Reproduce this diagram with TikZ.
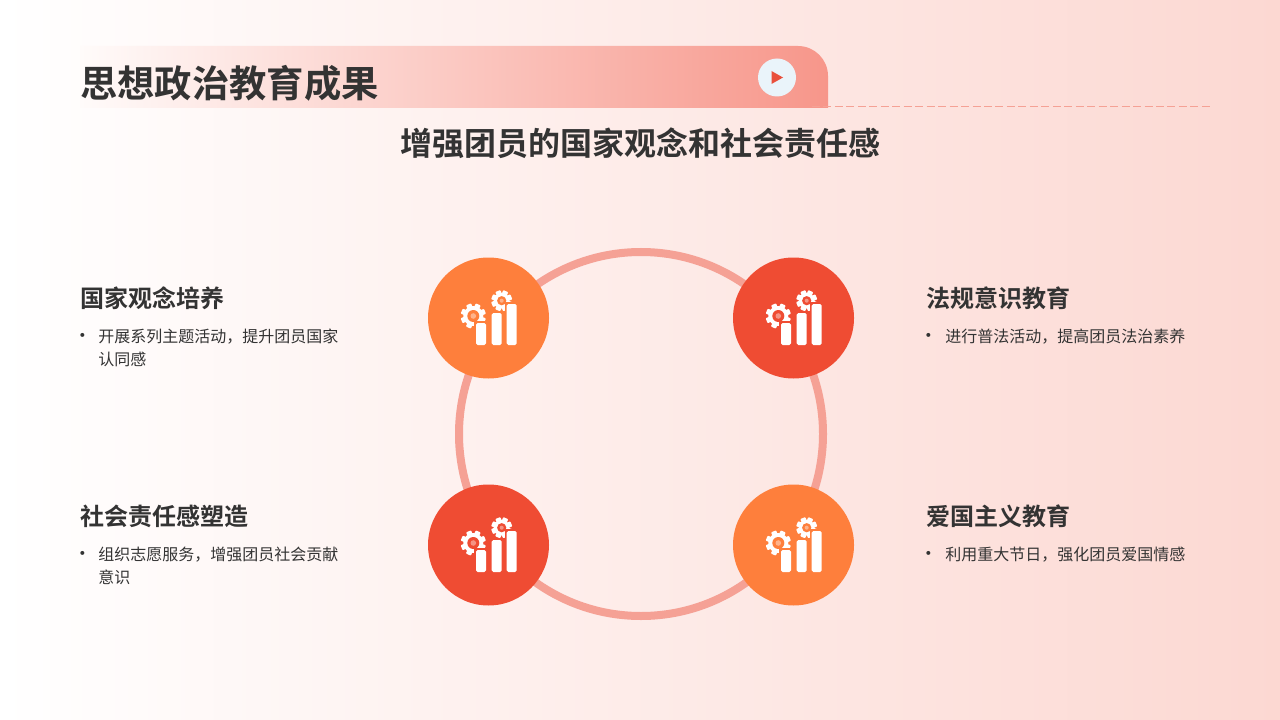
\documentclass[tikz,border=0pt]{standalone}
\usepackage{fontspec}
\setmainfont{Noto Sans CJK SC}[BoldFont={Noto Sans CJK SC Bold}]
\definecolor{ink}{HTML}{333333}
\definecolor{bgL}{HTML}{FFFFFF}
\definecolor{bgM}{HTML}{FEF1EE}
\definecolor{bgR}{HTML}{FCD8D2}
\definecolor{bandL}{HTML}{FFFBFA}
\definecolor{bandR}{HTML}{F7968A}
\definecolor{ringc}{HTML}{F5A195}
\definecolor{orangeC}{HTML}{FE7F3C}
\definecolor{redC}{HTML}{EF4C33}
\definecolor{playbg}{HTML}{EAF4FA}
\definecolor{playc}{HTML}{E9503C}
\tikzset{
  x=0.75pt,y=-0.75pt,
  titletext/.style={font=\fontsize{28pt}{32pt}\selectfont\bfseries,text=ink,anchor=west,inner sep=0},
  subtext/.style={font=\fontsize{24pt}{28pt}\selectfont\bfseries,text=ink,inner sep=0},
  headtext/.style={font=\fontsize{18pt}{22pt}\selectfont\bfseries,text=ink,anchor=west,inner sep=0},
  bodytext/.style={font=\fontsize{12pt}{16pt}\selectfont,text=ink,anchor=west,inner sep=0},
  bullettext/.style={font=\fontsize{14pt}{16pt}\selectfont,text=ink,anchor=center,inner sep=0},
  disc/.style={circle,minimum size=90.75pt,inner sep=0,draw=none,fill=#1},
  pics/gearbars/.style={code={
    \foreach \cx/\cy/\ro/\rh/\rc in {-15.7/-2/10/6/2.8, 12.7/-17.3/7.8/4.6/2}{
      \fill[white] (\cx,\cy) circle[radius=\ro];
      \foreach \a in {0,45,...,315}
        \fill[white,rounded corners=0.6pt,rotate around={\a+22:(\cx,\cy)}] (\cx-2.7,\cy-\ro-2.6) rectangle (\cx+2.7,\cy);
      \fill[#1] (\cx,\cy) circle[radius=\rh];
      \fill[white!40!#1] (\cx,\cy) circle[radius=\rc];
    }
    \foreach \xa/\ya/\xb in {-13/5/-3, 2.7/-5/12.7, 17.7/-14/27.7}{
      \fill[#1] (\xa-2,\ya-2) rectangle (\xb+2,29);
      \fill[white,rounded corners=1.2pt] (\xa,\ya) rectangle (\xb,27);
    }
  }}
}
\begin{document}
\begin{tikzpicture}
\useasboundingbox (0,0) rectangle (1280,720);
\shade[left color=bgL,middle color=bgM,right color=bgR] (0,0) rectangle (1280,720);
% header band
\shade[left color=bandL,right color=bandR]
  (80,108) -- (80,46) [rounded corners=22.5pt] -- (828,46) [sharp corners] -- (828,108) -- cycle;
\draw[ringc,line width=1.2pt,dash pattern=on 6pt off 2.6pt] (812,106.5) -- (1212,106.5);
\node[circle,fill=playbg,minimum size=28.5pt,inner sep=0] (playbtn) at (777,77.5) {};
\fill[playc] (771.5,71) -- (783,77.5) -- (771.5,84) -- cycle;
\node[titletext] (title) at (80,83) {思想政治教育成果};
\node[subtext] (subtitle) at (640.5,143) {增强团员的国家观念和社会责任感};
% ring
\draw[ringc,line width=6pt] (641,434) circle[radius=182];
% discs
\node[disc=orangeC] (d1) at (488.5,318) {};
\node[disc=redC] (d2) at (793.5,318) {};
\node[disc=redC] (d3) at (488.5,545) {};
\node[disc=orangeC] (d4) at (793.5,545) {};
\pic at (489,318) {gearbars=orangeC};
\pic at (794,318) {gearbars=redC};
\pic at (489,545) {gearbars=redC};
\pic at (794,545) {gearbars=orangeC};
% left text
\node[headtext] (h1) at (80,298) {国家观念培养};
\node[bullettext] (b1) at (83,338) {•};
\node[bodytext] (t1a) at (98,336.5) {开展系列主题活动，提升团员国家};
\node[bodytext] (t1b) at (98,359.5) {认同感};
\node[headtext] (h3) at (80,516) {社会责任感塑造};
\node[bullettext] (b3) at (83,556) {•};
\node[bodytext] (t3a) at (98,554.5) {组织志愿服务，增强团员社会贡献};
\node[bodytext] (t3b) at (98,577.5) {意识};
% right text
\node[headtext] (h2) at (926,298) {法规意识教育};
\node[bullettext] (b2) at (929,338) {•};
\node[bodytext] (t2a) at (945,336.5) {进行普法活动，提高团员法治素养};
\node[headtext] (h4) at (926,516) {爱国主义教育};
\node[bullettext] (b4) at (929,556) {•};
\node[bodytext] (t4a) at (945,554.5) {利用重大节日，强化团员爱国情感};
\end{tikzpicture}
\end{document}
